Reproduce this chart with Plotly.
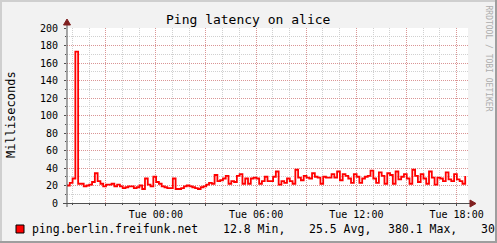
import pandas as pd
import plotly.graph_objects as go

# ---- data ----
start_time = "2023-01-02 18:41"   # Monday
step = "10min"
latency_ms = [
    20, 23, 28, 173, 22, 22, 19, 20, 21, 24,
    34, 25, 22, 19, 21, 21, 22, 19, 21, 19,
    17, 18, 19, 19, 17, 18, 20, 16, 28, 21,
    19, 30, 24, 22, 19, 18, 17, 17, 28, 16,
    16, 17, 19, 20, 19, 18, 17, 16, 18, 19,
    21, 23, 22, 32, 25, 26, 28, 31, 22, 25,
    24, 31, 33, 22, 28, 22, 28, 29, 28, 22,
    25, 30, 25, 25, 30, 36, 21, 25, 23, 28,
    25, 22, 38, 29, 26, 31, 29, 28, 34, 30,
    29, 22, 30, 29, 29, 33, 29, 36, 26, 33,
    31, 28, 23, 33, 30, 23, 28, 30, 31, 37,
    28, 23, 35, 31, 22, 34, 32, 22, 36, 27,
    30, 33, 28, 22, 38, 31, 24, 33, 28, 22,
    36, 29, 21, 29, 28, 25, 35, 27, 25, 33,
    27, 25, 22, 31,
]
series_name = "ping.berlin.freifunk.net"
stat_labels = ["12.8 Min,", "25.5 Avg,", "380.1 Max,", "30."]
x_range = ["2023-01-02 18:41", "2023-01-03 18:41"]
grid_start = "2023-01-02 21:00"
y_ticks = list(range(0, 201, 20))

times = pd.date_range(start_time, periods=len(latency_ms), freq=step)

# major ticks every 3h (red grid); labels every 6h
tick_times = pd.date_range(grid_start, x_range[1], freq="3h")
tick_text = [t.strftime("%a %H:%M") if t.hour % 6 == 0 else "" for t in tick_times]

# ---- layout geometry (pixels) ----
W, H = 497, 243
L, R, T, B = 67, 468, 28, 203
MONO = "DejaVu Sans Mono"
MAJOR_GRID = "rgba(225,110,110,0.6)"
MINOR_GRID = "#D0D0D0"

def px(x):
    return (x - L) / (R - L)

def py(y):
    return (B - y) / (B - T)

fig = go.Figure()
fig.add_trace(go.Scatter(
    x=times, y=latency_ms, mode="lines", line_shape="hv",
    line=dict(color="#FF0000", width=1.8), showlegend=False, hoverinfo="skip",
))

shapes = []
# frame
shapes += [
    dict(type="rect", xref="paper", yref="paper", x0=px(0), x1=px(W), y0=py(2), y1=py(0),
         fillcolor="#CFCFCF", line_width=0, layer="above"),
    dict(type="rect", xref="paper", yref="paper", x0=px(0), x1=px(2), y0=py(H), y1=py(0),
         fillcolor="#CFCFCF", line_width=0, layer="above"),
    dict(type="rect", xref="paper", yref="paper", x0=px(0), x1=px(W), y0=py(H), y1=py(H - 2),
         fillcolor="#9E9E9E", line_width=0, layer="above"),
    dict(type="rect", xref="paper", yref="paper", x0=px(W - 2), x1=px(W), y0=py(H), y1=py(0),
         fillcolor="#9E9E9E", line_width=0, layer="above"),
]
# axes with arrows
shapes += [
    dict(type="line", xref="paper", yref="paper", x0=px(63), x1=px(472), y0=py(B + 0.5), y1=py(B + 0.5),
         line=dict(color="#505050", width=1), layer="above"),
    dict(type="line", xref="paper", yref="paper", x0=px(L), x1=px(L), y0=py(207), y1=py(22),
         line=dict(color="#505050", width=1), layer="above"),
]
def tri(points):
    return "M " + " L ".join(f"{a},{b}" for a, b in points) + " Z"
ax_pts = [(px(470), py(B - 3)), (px(476), py(B + 0.5)), (px(470), py(B + 4))]
ay_pts = [(px(L - 3.5), py(25)), (px(L), py(19)), (px(L + 3.5), py(25))]
shapes += [
    dict(type="path", xref="paper", yref="paper", path=tri(ax_pts),
         fillcolor="#802020", line=dict(color="#802020", width=1), layer="above"),
    dict(type="path", xref="paper", yref="paper", path=tri(ay_pts),
         fillcolor="#802020", line=dict(color="#802020", width=1), layer="above"),
]
# legend swatch
shapes.append(dict(type="rect", xref="paper", yref="paper", x0=px(16), x1=px(24), y0=py(233), y1=py(225),
                   fillcolor="#FF0000", line=dict(color="#000000", width=1), layer="above"))

annotations = [
    dict(text="Ping latency on alice", x=px(248), y=py(19), xref="paper", yref="paper",
         xanchor="center", yanchor="middle", showarrow=False,
         font=dict(family=MONO, size=13, color="#000000")),
    dict(text="Milliseconds", x=px(11), y=py(115), xref="paper", yref="paper",
         xanchor="center", yanchor="middle", showarrow=False, textangle=-90,
         font=dict(family=MONO, size=12, color="#000000")),
    dict(text="RRDTOOL / TOBI OETIKER", x=px(487.5), y=py(58), xref="paper", yref="paper",
         xanchor="center", yanchor="middle", showarrow=False, textangle=90,
         font=dict(family=MONO, size=8, color="#ADADAD")),
    dict(text=series_name, x=px(30), y=py(229), xref="paper", yref="paper",
         xanchor="left", yanchor="middle", showarrow=False,
         font=dict(family=MONO, size=11.5, color="#000000")),
]
stat_x = [221, 307, 386, 479]
for txt, sx in zip(stat_labels, stat_x):
    annotations.append(dict(text=txt, x=px(sx), y=py(229), xref="paper", yref="paper",
                            xanchor="left", yanchor="middle", showarrow=False,
                            font=dict(family=MONO, size=11.5, color="#000000")))

fig.update_layout(
    width=W, height=H,
    margin=dict(l=L, r=W - R, t=T, b=H - B, pad=0),
    paper_bgcolor="#F2F2F2", plot_bgcolor="#FFFFFF",
    shapes=shapes, annotations=annotations,
    xaxis=dict(
        type="date", range=x_range, tickmode="array",
        tickvals=list(tick_times), ticktext=tick_text,
        showgrid=True, gridcolor=MAJOR_GRID, griddash="1px,1px", gridwidth=1,
        zeroline=False, showline=False,
        ticks="outside", ticklen=2, tickcolor="#505050",
        tickfont=dict(family=MONO, size=10, color="#000000"),
        minor=dict(dtick=3600000, tick0="2023-01-02 19:00", showgrid=True,
                   gridcolor=MINOR_GRID, griddash="1px,1px", gridwidth=1,
                   ticks="outside", ticklen=1, tickcolor="#505050"),
        fixedrange=True,
    ),
    yaxis=dict(
        range=[0, 200], tickmode="array", tickvals=y_ticks,
        showgrid=True, gridcolor=MAJOR_GRID, griddash="1px,1px", gridwidth=1,
        zeroline=False, showline=False,
        ticks="outside", ticklen=2, tickcolor="#505050",
        ticklabelstandoff=4,
        tickfont=dict(family=MONO, size=10, color="#000000"),
        minor=dict(dtick=10, showgrid=True, gridcolor=MINOR_GRID, griddash="1px,1px",
                   gridwidth=1, ticks="outside", ticklen=1, tickcolor="#505050"),
        fixedrange=True,
    ),
)

fig.write_html("out.html")
